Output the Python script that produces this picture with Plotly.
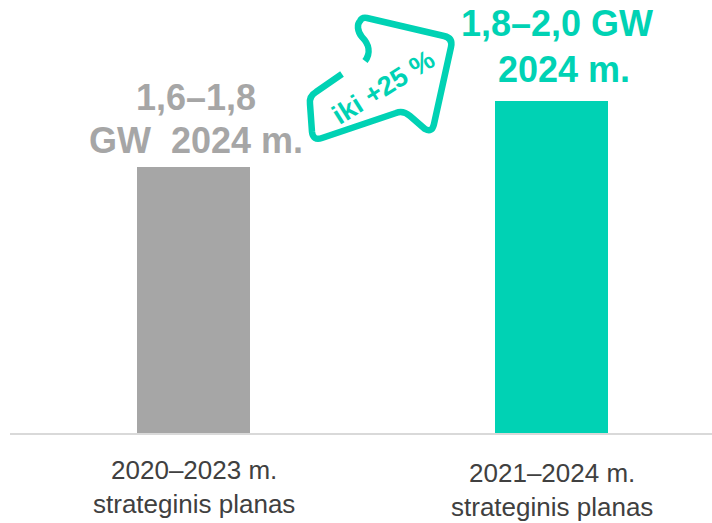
import plotly.graph_objects as go

# ---- data ----
categories = ["2020–2023 m. strateginis planas", "2021–2024 m. strateginis planas"]
cat_line1 = ["2020–2023 m.", "2021–2024 m."]
cat_line2 = ["strateginis planas", "strateginis planas"]
values = [1.6, 2.0]  # GW (lower bound of planned range)
value_line1 = ["1,6–1,8", "1,8–2,0 GW"]
value_line2 = ["GW  2024 m.", "2024 m."]
growth_label = "iki +25 %"

# ---- styles ----
GRAY = "#A6A6A6"
TEAL = "#00D2B4"
colors = [GRAY, TEAL]
FONT = "Liberation Sans, Arial, sans-serif"

W, H = 712, 523
ML, MR, MT, MB = 10, 0, 0, 90
PW, PH = W - ML - MR, H - MT - MB


def px(x, y):
    """pixel -> paper coordinates"""
    return (x - ML) / PW, (PH + MT - y) / PH


def pt(x, y):
    a, b = px(x, y)
    return f"{a:.5f},{b:.5f}"


fig = go.Figure()
fig.add_trace(go.Bar(
    x=categories, y=values, marker=dict(color=colors, line=dict(width=0)),
    width=0.316, hoverinfo="skip", showlegend=False,
))

annotations = []
# category labels
cat_shift = [0, -3]
for i, c in enumerate(categories):
    annotations.append(dict(
        x=c, xref="x", y=px(0, 487)[1], yref="paper", yanchor="middle",
        text=cat_line1[i] + "<br>" + cat_line2[i], showarrow=False,
        font=dict(family=FONT, size=26, color="#404040"), yshift=cat_shift[i],
        align="center"))

# value labels
lab_cfg = [
    dict(x1=196, y1=97.5, x2=196, y2=140, size=36, color=GRAY),
    dict(x1=557, y1=23.5, x2=564, y2=69.5, size=36, color=TEAL),
]
for i, c in enumerate(categories):
    cfg = lab_cfg[i]
    for txt, xx, yy in ((value_line1[i], cfg["x1"], cfg["y1"]), (value_line2[i], cfg["x2"], cfg["y2"])):
        a, b = px(xx, yy)
        annotations.append(dict(
            x=a, y=b, xref="paper", yref="paper", xanchor="center", yanchor="middle",
            text="<b>" + txt + "</b>", showarrow=False,
            font=dict(family=FONT, size=cfg["size"], color=cfg["color"])))

# growth arrow label
a, b = px(384, 87)
annotations.append(dict(
    x=a, y=b, xref="paper", yref="paper", xanchor="center", yanchor="middle",
    text="<b>" + growth_label + "</b>", showarrow=False, textangle=-32,
    font=dict(family=FONT, size=27, color=TEAL)))

# open arrow outline (decorative)
path = (
    f"M {pt(365,61)} C {pt(371,53)} {pt(369,44)} {pt(362,37)} "
    f"C {pt(357,31)} {pt(357,24)} {pt(360,21)} "
    f"Q {pt(362,17)} {pt(367,18)} "
    f"L {pt(444,36)} Q {pt(453,38)} {pt(451,47)} "
    f"L {pt(434,124)} Q {pt(432,133)} {pt(425,129)} "
    f"L {pt(410,116)} Q {pt(403,110)} {pt(396,113)} "
    f"L {pt(322,138)} Q {pt(313,141)} {pt(312,132)} "
    f"L {pt(310,104)} Q {pt(309,96)} {pt(316,92)} "
    f"L {pt(342,74)}"
)
shapes = [dict(type="path", path=path, xref="paper", yref="paper",
               line=dict(color=TEAL, width=6.5), fillcolor="rgba(0,0,0,0)")]

fig.update_layout(
    width=W, height=H, margin=dict(l=ML, r=MR, t=MT, b=MB),
    plot_bgcolor="white", paper_bgcolor="white",
    xaxis=dict(type="category", range=[-0.5126, 1.448], showline=True,
               linecolor="#D9D9D9", linewidth=2, showticklabels=False,
               showgrid=False, zeroline=False, ticks=""),
    yaxis=dict(range=[0, 2.608], visible=False, showgrid=False, zeroline=False),
    annotations=annotations, shapes=shapes, bargap=0,
)

fig.write_html("out.html", config={"displayModeBar": False},
               post_script="document.body.style.margin='0';document.body.style.padding='0';")
